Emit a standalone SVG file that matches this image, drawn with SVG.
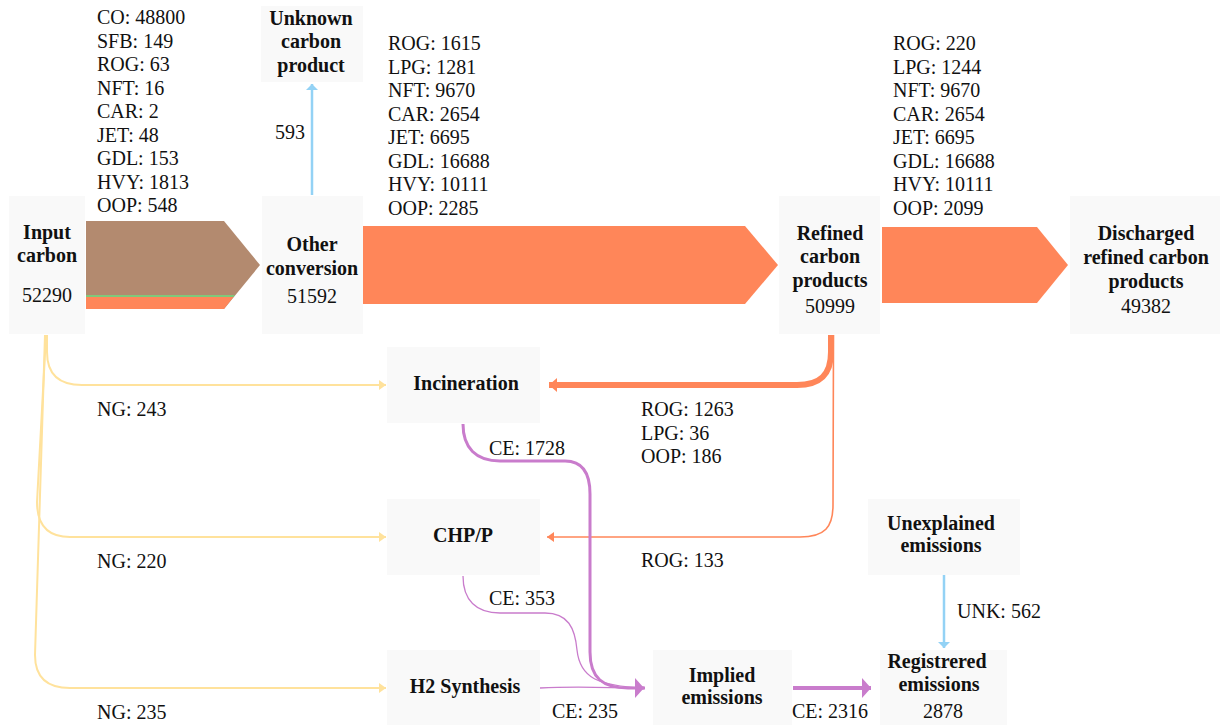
<svg xmlns="http://www.w3.org/2000/svg" width="1220" height="725" viewBox="0 0 1220 725" font-family="Liberation Serif, Times New Roman, serif" font-size="20">
  <style>
    .box { fill: #f9f9f9; }
    text { fill: #111; }
    .title { font-weight: bold; text-anchor: middle; }
    .val { text-anchor: middle; }
    .ng { fill: none; stroke: #ffe29c; stroke-width: 2; }
    .og { fill: none; stroke: #ff8659; }
    .ce { fill: none; stroke: #c97ccc; }
    .bl { fill: none; stroke: #93d2f5; stroke-width: 2.5; }
  </style>
  <defs>
    <marker id="ah-ng" markerUnits="userSpaceOnUse" markerWidth="8" markerHeight="12" refX="7" refY="6" orient="auto">
      <path d="M0,1 L7,6 L0,11 z" fill="#ffe29c"/>
    </marker>
    <marker id="ah-og" markerUnits="userSpaceOnUse" markerWidth="10" markerHeight="16" refX="8" refY="8" orient="auto">
      <path d="M0,1 L8,8 L0,15 z" fill="#ff8659"/>
    </marker>
    <marker id="ah-og-s" markerUnits="userSpaceOnUse" markerWidth="8" markerHeight="12" refX="7" refY="6" orient="auto">
      <path d="M0,1 L7,6 L0,11 z" fill="#ff8659"/>
    </marker>
    <marker id="ah-ce" markerUnits="userSpaceOnUse" markerWidth="10" markerHeight="22" refX="9" refY="11" orient="auto">
      <path d="M0,1 L9,11 L0,21 z" fill="#c97ccc"/>
    </marker>
    <marker id="ah-bl" markerUnits="userSpaceOnUse" markerWidth="8" markerHeight="14" refX="6" refY="7" orient="auto">
      <path d="M0,1 L6,7 L0,13 z" fill="#93d2f5"/>
    </marker>
  </defs>

  <!-- connectors -->
  <g id="connectors">
    <!-- input carbon -> other conversion (stacked fuels) -->
    <g id="flow-input-other">
      <polygon points="86,221 224,221 260,265 224,309 86,309" fill="#b38a6f"/>
      <polygon points="86,295 235,295 233.4,297 86,297" fill="#7fc97a"/>
      <polygon points="86,297 233.4,297 224,309 86,309" fill="#ff8659"/>
    </g>
    <!-- other conversion -> refined carbon products -->
    <polygon id="flow-other-refined" points="363,226 745,226 778,265 745,304 363,304" fill="#ff8659"/>
    <!-- refined -> discharged -->
    <polygon id="flow-refined-discharged" points="882,227 1037,227 1068,265 1037,303 882,303" fill="#ff8659"/>

    <!-- other conversion -> unknown carbon product -->
    <path class="bl" d="M312,195 L312,84" marker-end="url(#ah-bl)"/>
    <!-- unexplained -> registered -->
    <path class="bl" d="M944,575 L944,648" marker-end="url(#ah-bl)"/>

    <!-- natural gas feeds -->
    <path class="ng" d="M47,335 L47,352 Q47,385 82,385 L386,385" marker-end="url(#ah-ng)"/>
    <path class="ng" d="M46,335 L37,502 Q37,537 70,537 L386,537" marker-end="url(#ah-ng)"/>
    <path class="ng" d="M45,335 L35,655 Q35,688 70,688 L386,688" marker-end="url(#ah-ng)"/>

    <!-- refined products -> incineration / CHP -->
    <path class="og" stroke-width="6" d="M831,335 L831,352 C831,375 820,385 797,385 L549,385" marker-end="url(#ah-og)"/>
    <path class="og" stroke-width="1.6" d="M833.5,335 L833,505 C833,527 825,537 800,537 L547,537" marker-end="url(#ah-og-s)"/>

    <!-- combustion emissions -> implied emissions -->
    <path class="ce" stroke-width="3" d="M463,424 C463,448 476,461 500,461 L565,461 C583,461 590,474 590,494 L590,652 C590,678 603,688 628,688 L645,688"/>
    <path class="ce" stroke-width="1.3" d="M463,576 C463,600 476,613 500,613 L545,613 C568,613 575,628 577,650 C580,678 598,686 644,688"/>
    <path class="ce" stroke-width="1.3" d="M540,688 C580,686 610,688 644,688"/>
    <path class="ce" stroke-width="3" d="M640,688 L644,688" marker-end="url(#ah-ce)"/>
    <!-- implied -> registered -->
    <path class="ce" stroke-width="4" d="M793,688 L871,688" marker-end="url(#ah-ce)"/>
  </g>

  <!-- flow labels -->
  <g id="labels">
    <text x="97" y="24">CO: 48800</text>
    <text x="97" y="47.5">SFB: 149</text>
    <text x="97" y="71">ROG: 63</text>
    <text x="97" y="94.5">NFT: 16</text>
    <text x="97" y="118">CAR: 2</text>
    <text x="97" y="141.5">JET: 48</text>
    <text x="97" y="165">GDL: 153</text>
    <text x="97" y="188.5">HVY: 1813</text>
    <text x="97" y="212">OOP: 548</text>

    <text x="388" y="50">ROG: 1615</text>
    <text x="388" y="73.5">LPG: 1281</text>
    <text x="388" y="97">NFT: 9670</text>
    <text x="388" y="120.5">CAR: 2654</text>
    <text x="388" y="144">JET: 6695</text>
    <text x="388" y="167.5">GDL: 16688</text>
    <text x="388" y="191">HVY: 10111</text>
    <text x="388" y="214.5">OOP: 2285</text>

    <text x="893" y="50">ROG: 220</text>
    <text x="893" y="73.5">LPG: 1244</text>
    <text x="893" y="97">NFT: 9670</text>
    <text x="893" y="120.5">CAR: 2654</text>
    <text x="893" y="144">JET: 6695</text>
    <text x="893" y="167.5">GDL: 16688</text>
    <text x="893" y="191">HVY: 10111</text>
    <text x="893" y="214.5">OOP: 2099</text>

    <text x="275" y="139">593</text>

    <text x="97" y="416">NG: 243</text>
    <text x="97" y="568">NG: 220</text>
    <text x="97" y="719">NG: 235</text>

    <text x="641" y="416">ROG: 1263</text>
    <text x="641" y="439.5">LPG: 36</text>
    <text x="641" y="463">OOP: 186</text>
    <text x="641" y="567">ROG: 133</text>

    <text x="489" y="455">CE: 1728</text>
    <text x="489" y="605">CE: 353</text>
    <text x="552" y="718">CE: 235</text>
    <text x="792" y="718">CE: 2316</text>
    <text x="957" y="618">UNK: 562</text>
  </g>

  <!-- nodes -->
  <g id="node-input">
    <rect class="box" x="9" y="196" width="76" height="138"/>
    <text class="title" x="47" y="239">Input</text>
    <text class="title" x="47" y="262">carbon</text>
    <text class="val" x="47" y="302">52290</text>
  </g>
  <g id="node-other">
    <rect class="box" x="262" y="196" width="101" height="138"/>
    <text class="title" x="312" y="251">Other</text>
    <text class="title" x="312" y="275">conversion</text>
    <text class="val" x="312" y="303">51592</text>
  </g>
  <g id="node-unknown">
    <rect class="box" x="261" y="6" width="102" height="76"/>
    <text class="title" x="311" y="25">Unknown</text>
    <text class="title" x="311" y="48">carbon</text>
    <text class="title" x="311" y="72">product</text>
  </g>
  <g id="node-refined">
    <rect class="box" x="779" y="196" width="101" height="138"/>
    <text class="title" x="830" y="240">Refined</text>
    <text class="title" x="830" y="263">carbon</text>
    <text class="title" x="830" y="287">products</text>
    <text class="val" x="830" y="313">50999</text>
  </g>
  <g id="node-discharged">
    <rect class="box" x="1070" y="196" width="150" height="138"/>
    <text class="title" x="1146" y="240">Discharged</text>
    <text class="title" x="1146" y="264">refined carbon</text>
    <text class="title" x="1146" y="288">products</text>
    <text class="val" x="1146" y="313">49382</text>
  </g>
  <g id="node-incineration">
    <rect class="box" x="387" y="347" width="153" height="76"/>
    <text class="title" x="466" y="390">Incineration</text>
  </g>
  <g id="node-chp">
    <rect class="box" x="387" y="499" width="153" height="76"/>
    <text class="title" x="463" y="542">CHP/P</text>
  </g>
  <g id="node-h2">
    <rect class="box" x="387" y="650" width="153" height="75"/>
    <text class="title" x="465" y="693">H2 Synthesis</text>
  </g>
  <g id="node-implied">
    <rect class="box" x="653" y="650" width="139" height="75"/>
    <text class="title" x="722" y="682">Implied</text>
    <text class="title" x="722" y="704">emissions</text>
  </g>
  <g id="node-unexplained">
    <rect class="box" x="868" y="499" width="152" height="76"/>
    <text class="title" x="941" y="530">Unexplained</text>
    <text class="title" x="941" y="552">emissions</text>
  </g>
  <g id="node-registered">
    <rect class="box" x="880" y="650" width="127" height="75"/>
    <text class="title" x="937" y="668">Registrered</text>
    <text class="title" x="939" y="691">emissions</text>
    <text class="val" x="943" y="718">2878</text>
  </g>
</svg>
